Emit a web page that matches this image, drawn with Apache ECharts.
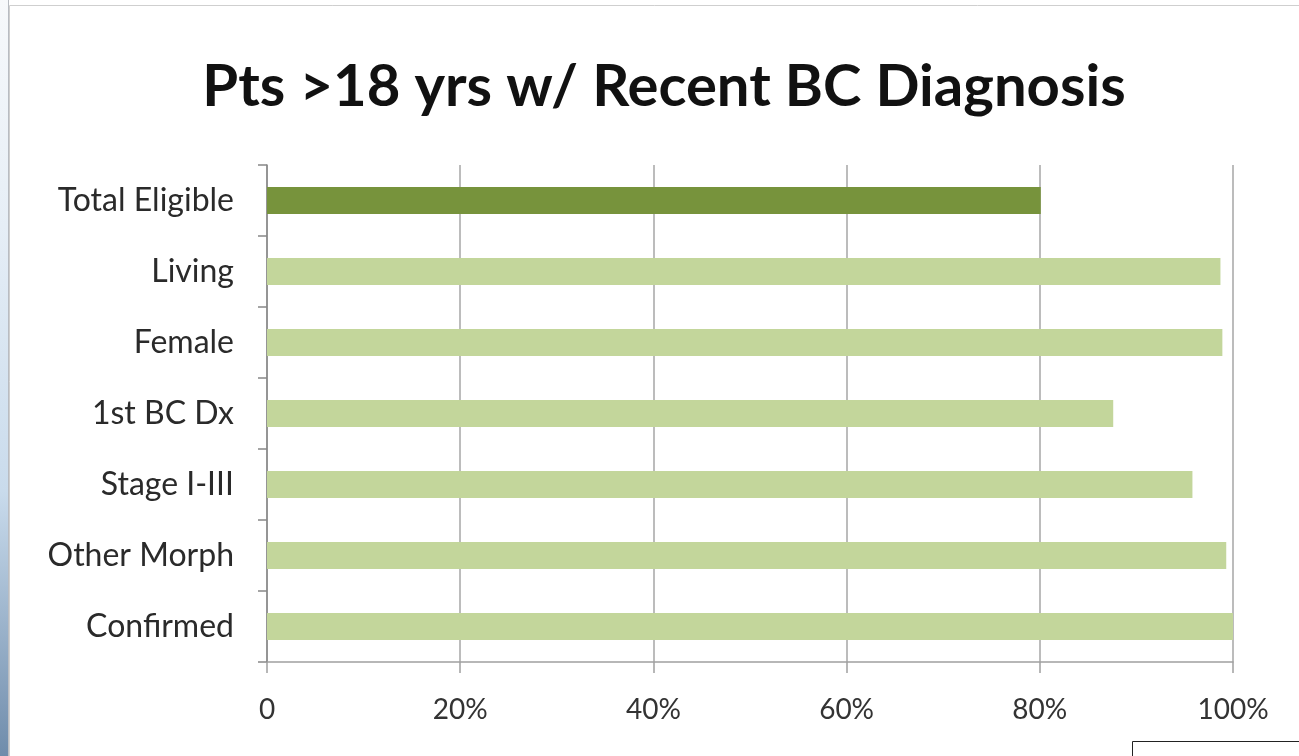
<!DOCTYPE html>
<html>
<head>
<meta charset="utf-8">
<script src="https://cdn.jsdelivr.net/npm/echarts@6/dist/echarts.min.js"></script>
<style>
  html, body { margin: 0; padding: 0; background: #fff; }
  #main { width: 1299px; height: 756px; }
</style>
</head>
<body>
<div id="main"></div>
<script>
// categories top to bottom
var categories = ['Total Eligible', 'Living', 'Female', '1st BC Dx', 'Stage I-III', 'Other Morph', 'Confirmed'];
// percent values
var values = [80.1, 98.7, 98.9, 87.6, 95.8, 99.3, 100];
var xTicks = [0, 20, 40, 60, 80, 100];

var darkGreen = '#77933c';
var lightGreen = '#c3d69b';

var myChart = echarts.init(document.getElementById('main'));
myChart.setOption({
    backgroundColor: '#fff',
    animation: false,
    title: {
        text: 'Pts >18 yrs w/ Recent BC Diagnosis',
        left: 659,
        top: 53,
        textAlign: 'center',
        textStyle: {
            fontFamily: 'Lato',
            fontWeight: 'bold',
            fontSize: 58,
            color: '#111'
        }
    },
    graphic: [
        {   // chart frame
            type: 'rect',
            shape: { x: 9.5, y: 5.5, width: 1400, height: 900 },
            style: { fill: 'none', stroke: '#cfcfcf', lineWidth: 1 },
            silent: true
        },
        {   // blue strip on the left
            type: 'rect',
            shape: { x: 0, y: 0, width: 8, height: 756 },
            style: {
                fill: new echarts.graphic.LinearGradient(0, 0, 0, 1, [
                    { offset: 0, color: '#f7f9fb' },
                    { offset: 0.3, color: '#e6eef6' },
                    { offset: 0.65, color: '#c9dbec' },
                    { offset: 1, color: '#6f8cab' }
                ])
            },
            silent: true
        },
        {
            type: 'line',
            shape: { x1: 8.5, y1: 0, x2: 8.5, y2: 756 },
            style: { stroke: '#b8bcc2', lineWidth: 1 },
            silent: true
        },
        {   // little box bottom right
            type: 'rect',
            shape: { x: 1132.5, y: 741.5, width: 200, height: 40 },
            style: { fill: '#fff', stroke: '#222', lineWidth: 1 },
            silent: true
        }
    ],
    grid: {
        left: 267,
        right: 66,
        top: 165,
        bottom: 94,
        containLabel: false
    },
    xAxis: {
        type: 'value',
        min: xTicks[0],
        max: xTicks[xTicks.length - 1],
        interval: 20,
        axisLine: { show: true, lineStyle: { color: '#a0a0a0', width: 1.5 } },
        axisTick: { show: true, length: 11, lineStyle: { color: '#a0a0a0', width: 1.5 } },
        splitLine: { show: true, lineStyle: { color: '#a6a6a6', width: 1.5 } },
        axisLabel: {
            margin: 34,
            fontFamily: 'Lato',
            fontSize: 28,
            color: '#333',
            formatter: function (v) { return v === 0 ? '0' : v + '%'; }
        }
    },
    yAxis: {
        type: 'category',
        data: categories,
        inverse: true,
        axisLine: { show: true, lineStyle: { color: '#888', width: 1.5 } },
        axisTick: { show: true, length: 9, lineStyle: { color: '#888', width: 1.5 } },
        axisLabel: {
            margin: 33,
            fontFamily: 'Lato',
            fontSize: 32,
            color: '#2a2a2a'
        }
    },
    series: [{
        type: 'bar',
        data: values.map(function (v, i) {
            return { value: v, itemStyle: { color: i === 0 ? darkGreen : lightGreen } };
        }),
        barWidth: 27,
        silent: true
    }]
});
</script>
</body>
</html>
